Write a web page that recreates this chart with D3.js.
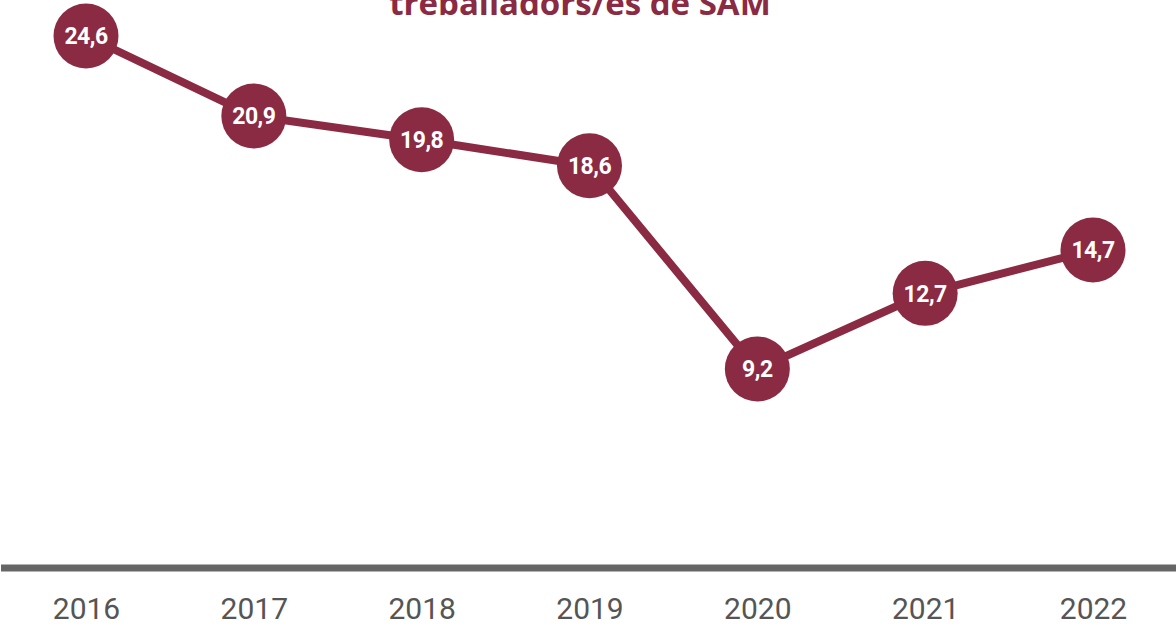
<!DOCTYPE html>
<html>
<head>
<meta charset="utf-8">
<script src="https://cdn.jsdelivr.net/npm/d3@7"></script>
<style>
  body { margin: 0; background: #fff; }
  svg { display: block; }
</style>
</head>
<body>
<div id="chart"></div>
<script>
const years = ['2016', '2017', '2018', '2019', '2020', '2021', '2022'];
const values = [24.6, 20.9, 19.8, 18.6, 9.2, 12.7, 14.7];
const titleLines = ['treballadors/es de SAM'];

const width = 1176,
  height = 626;
const wine = '#8a2a43';

const svg = d3
  .select('#chart')
  .append('svg')
  .attr('width', width)
  .attr('height', height);

// x: one band per year
const x = d3
  .scalePoint()
  .domain(years)
  .range([86, 1093]);

// y: 0 sits on the thick baseline
const y = d3
  .scaleLinear()
  .domain([0, 24.6])
  .range([568, 36]);

// title (cut by the top edge in the original)
svg
  .selectAll('text.title')
  .data(titleLines)
  .enter()
  .append('text')
  .attr('class', 'title')
  .attr('x', 580)
  .attr('y', 15)
  .attr('text-anchor', 'middle')
  .style('font-family', '"Open Sans", sans-serif')
  .style('font-weight', 'bold')
  .style('font-size', '33px')
  .style('fill', wine)
  .text(d => d);

// baseline
svg
  .append('line')
  .attr('x1', 1)
  .attr('x2', width)
  .attr('y1', y(0))
  .attr('y2', y(0))
  .attr('stroke', '#666')
  .attr('stroke-width', 7);

// year labels via axis
const xAxis = svg
  .append('g')
  .attr('transform', `translate(0,${y(0)})`)
  .call(d3.axisBottom(x).tickSize(0).tickPadding(30));
xAxis.select('.domain').remove();
xAxis
  .selectAll('text')
  .style('font-family', 'Roboto, sans-serif')
  .style('font-size', '30px')
  .style('fill', '#555');

const data = years.map((yr, i) => ({ year: yr, value: values[i] }));

// line
const line = d3
  .line()
  .x(d => x(d.year))
  .y(d => y(d.value));

svg
  .append('path')
  .datum(data)
  .attr('d', line)
  .attr('fill', 'none')
  .attr('stroke', wine)
  .attr('stroke-width', 8);

// dots + labels
const dots = svg
  .selectAll('g.dot')
  .data(data)
  .enter()
  .append('g')
  .attr('class', 'dot')
  .attr('transform', d => `translate(${x(d.year)},${y(d.value)})`);

dots
  .append('circle')
  .attr('r', 32.5)
  .attr('fill', wine);

dots
  .append('text')
  .attr('text-anchor', 'middle')
  .attr('dy', '0.36em')
  .style('font-family', 'Roboto, sans-serif')
  .style('font-weight', 'bold')
  .style('font-size', '23px')
  .style('letter-spacing', '-0.5px')
  .style('fill', '#fff')
  .text(d => String(d.value).replace('.', ','));
</script>
</body>
</html>
